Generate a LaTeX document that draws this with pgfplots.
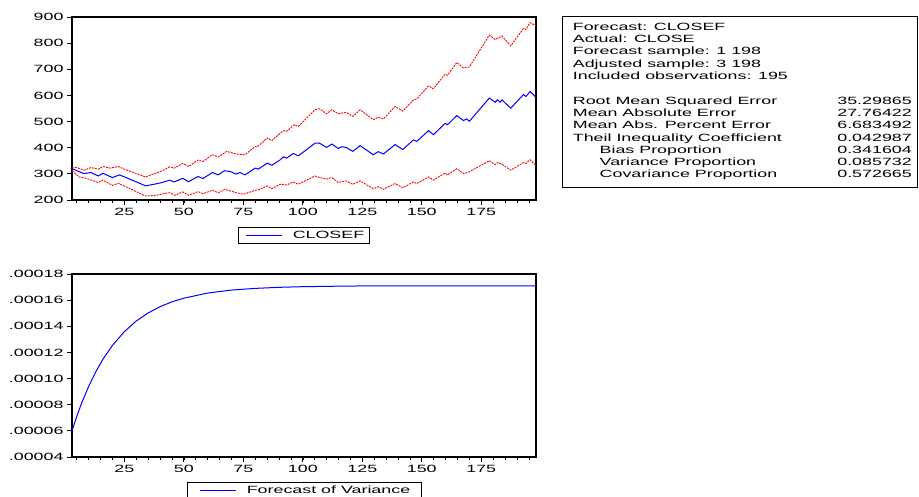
\documentclass[border=0pt]{standalone}
\usepackage{fontspec}
\setmainfont{Liberation Sans}[FakeStretch=1.7]
\usepackage{pgfplots}
\pgfplotsset{compat=1.18}
\newcommand{\evfont}{\fontsize{10.5}{12}\selectfont}

\pgfplotsset{
  ev/.style={
    scale only axis, width=464pt, height=183pt,
    xmin=3, xmax=198,
    xtick={25,50,...,175}, minor xtick={5,10,...,195},
    xtick pos=bottom, ytick pos=left, tick align=outside,
    major tick length=5pt, minor tick length=3pt,
    axis line style={line width=1.1pt},
    every tick/.style={black, line width=0.8pt},
    every minor tick/.style={black, line width=0.6pt},
    tick label style={font=\evfont},
    /pgf/number format/assume math mode=true,
    legend cell align=left,
    legend style={draw=black, line width=0.6pt, font=\evfont,
      at={(0.5,0)}, anchor=north, inner xsep=3pt, inner ysep=1.5pt,
      nodes={inner xsep=2pt}},
    legend image code/.code={\draw[#1] (0pt,0pt) -- (36pt,0pt); \path (-4pt,0pt) (44pt,0pt);},
  },
  band/.style={red, line width=0.9pt, dash pattern=on 2pt off 1pt, forget plot},
}

\begin{document}
\begin{tikzpicture}[x=1pt,y=1pt]
\useasboundingbox (0,0) rectangle (919,497);

% forecast with +/- 2 S.E. band
\begin{axis}[ev, at={(72pt,297pt)}, anchor=south west,
  ymin=200, ymax=900, ytick={200,300,...,900},
  legend style={yshift=-27pt}]
\addplot[band] coordinates {
(3,327) (5,324) (8,314) (11,324) (14,318) (16,328) (19,322) (22.5,328) (25,318)
(34,288) (35,292) (39,305) (41,312) (44,327) (46,322) (49.5,340) (52,328)
(56,353) (58,347) (62,373) (64.5,365) (68,386) (72,376) (75.7,373) (80,405)
(81,404) (85,437) (87,427) (90.4,455) (91.8,465) (93.2,463) (96.4,488) (98.1,481)
(105.1,545) (106.9,549) (110,530) (112.2,545) (114.9,530) (118.2,535) (121,520)
(124.1,545) (129.6,507) (131.7,517) (133.9,510) (138.8,558) (142,540) (146.5,583)
(147.9,587) (152.8,636) (154.9,626) (159.8,681) (160.8,677) (164.7,726) (167.5,705)
(170,709) (178.4,831) (180.8,814) (183.7,827) (187.4,790) (192.7,856) (193.8,853)
(195.5,878) (197.6,869) (198,866)
};
\addplot[band] coordinates {
(3,312) (6,288) (9,283) (14,267) (16,276) (20,256) (22.5,264) (34,215) (38.6,218)
(41.4,224) (44,228) (46.3,218) (49.5,231) (52,218) (56,232) (58,224) (62,237)
(64.5,228) (67.3,241) (72,228) (75,222) (80,237) (82,241) (85,254) (87,243)
(90.4,260) (91.8,260) (93.2,257) (96,269) (98.1,260) (105.1,292) (106.9,286)
(110,280) (112.2,286) (114.9,267) (118.2,273) (121,260) (124.1,273) (129.6,243)
(131.7,251) (133.9,241) (138.8,263) (142,247) (146.5,269) (147.9,263) (152.8,288)
(154.9,276) (159.8,303) (160.8,296) (164.7,320) (167.5,301) (170,308) (178.4,350)
(180.8,335) (181.8,343) (183.7,337) (187.4,314) (192.7,343) (193.8,340) (195.5,354)
(197.6,335) (198,333)
};
\addplot[blue, line width=1pt] coordinates {
(3,320) (8,301) (11,305) (14,292) (16,302) (20,286) (23,296) (34,254) (39,263)
(41,267) (44,276) (46,269) (49.5,283) (52,270) (56,290) (58,282) (62,305) (64.5,296)
(67,312) (69.5,309) (72,299) (73.6,305) (75.7,296) (80,322) (81.3,318) (85,341)
(87,333) (90.4,353) (91.8,365) (93.2,360) (96,378) (98.1,369) (105.1,417)
(106.9,418) (110,401) (112.2,414) (114.9,397) (116.4,404) (118.2,401) (121,386)
(124.1,408) (129.6,373) (131.7,385) (133.9,376) (138.8,412) (142,393) (146.5,430)
(147.9,424) (152.8,465) (154.9,450) (159.8,493) (160.8,488) (164.7,523) (167.5,504)
(168.9,510) (170,501) (178.4,590) (180.8,574) (181.8,583) (182.9,574) (183.7,583)
(187.4,551) (192.7,603) (193.8,596) (195.5,615) (197.6,596) (198,596)
};
\addlegendentry{CLOSEF}
\end{axis}

% forecast of variance
\begin{axis}[ev, at={(72pt,40pt)}, anchor=south west,
  ymin=0.00004, ymax=0.00018, scaled y ticks=false,
  ytick={0.00004,0.00006,0.00008,0.00010,0.00012,0.00014,0.00016,0.00018},
  yticklabels={.00004,.00006,.00008,.00010,.00012,.00014,.00016,.00018},
  legend style={yshift=-24.7pt, inner xsep=9pt}]
\addplot[blue, line width=1pt] coordinates {
(3,0.0000600) (5,0.0000710) (7,0.0000810) (10,0.0000940) (13,0.0001052)
(16,0.0001148) (20,0.0001254) (25,0.0001359) (30,0.0001440) (35,0.0001502)
(40,0.0001550) (45,0.0001587) (50,0.0001615) (60,0.0001654) (70,0.0001677)
(80,0.0001690) (90,0.0001698) (100,0.0001703) (120,0.0001708) (150,0.0001710)
(198,0.0001710)
};
\addlegendentry{Forecast of Variance}
\end{axis}

% evaluation statistics
\draw[line width=0.8pt] (562.7,481) rectangle (917.3,310);
\begin{scope}[every node/.style={inner sep=0pt, font=\evfont}]
\node[anchor=base west] at (572.7,466.5) {Forecast: CLOSEF};
\node[anchor=base west] at (572.7,454.3) {Actual: CLOSE};
\node[anchor=base west] at (572.7,442.1) {Forecast sample: 1 198};
\node[anchor=base west] at (572.7,429.9) {Adjusted sample: 3 198};
\node[anchor=base west] at (572.7,417.7) {Included observations: 195};
\node[anchor=base west] at (572.7,392.5) {Root Mean Squared Error};
\node[anchor=base west] at (572.7,380.3) {Mean Absolute Error};
\node[anchor=base west] at (572.7,368.1) {Mean Abs. Percent Error};
\node[anchor=base west] at (572.7,355.9) {Theil Inequality Coefficient};
\node[anchor=base west] at (599.5,343.7) {Bias Proportion};
\node[anchor=base west] at (599.5,331.5) {Variance Proportion};
\node[anchor=base west] at (599.5,319.3) {Covariance Proportion};
\node[anchor=base east] at (912,392.5) {35.29865};
\node[anchor=base east] at (912,380.3) {27.76422};
\node[anchor=base east] at (912,368.1) {6.683492};
\node[anchor=base east] at (912,355.9) {0.042987};
\node[anchor=base east] at (912,343.7) {0.341604};
\node[anchor=base east] at (912,331.5) {0.085732};
\node[anchor=base east] at (912,319.3) {0.572665};
\end{scope}
\end{tikzpicture}
\end{document}
